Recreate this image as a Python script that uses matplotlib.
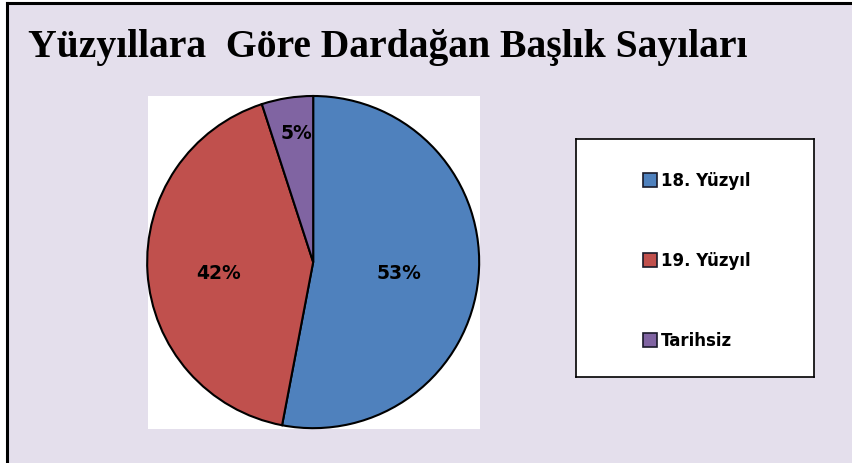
import matplotlib.pyplot as plt
from matplotlib.patches import Rectangle

categories = ['18. Yüzyıl', '19. Yüzyıl', 'Tarihsiz']
values = [53, 42, 5]
colors = ['#4F81BD', '#C0504D', '#8064A2']
title = 'Yüzyıllara  Göre Dardağan Başlık Sayıları'

W, H = 853, 464
fig = plt.figure(figsize=(W / 100, H / 100), dpi=100)
fig.patch.set_facecolor('white')

# lavender chart area with black top/left border
bg = fig.add_axes([7 / W, 0, 1 - 7 / W, 1 - 4 / H], zorder=-5)
bg.set_facecolor('#E4DFEC')
bg.set_xticks([])
bg.set_yticks([])
for s in bg.spines.values():
    s.set_visible(False)
bg.spines['left'].set_visible(True)
bg.spines['top'].set_visible(True)
bg.spines['left'].set_linewidth(2.2)
bg.spines['top'].set_linewidth(2.2)

fig.text(28 / W, 1 - 48 / H, title, fontsize=28.5, fontweight='bold',
         family='Liberation Serif', va='center', ha='left')

# white plot area behind the pie
ax = fig.add_axes([148 / W, 1 - 430 / H, 332 / W, 333 / H])
wedges, texts = ax.pie(values, colors=colors, startangle=90, counterclock=False,
                       radius=1.0,
                       wedgeprops=dict(edgecolor='black', linewidth=1.5))
ax.set_frame_on(True)
ax.set_facecolor('white')
ax.set_xlim(-0.995, 1.005)
ax.set_ylim(-1.005, 1.0)
ax.set_aspect('auto')
for s in ax.spines.values():
    s.set_visible(False)
ax.set_xticks([])
ax.set_yticks([])

label_pos = [(0.52, -0.06), (-0.57, -0.06), (-0.1, 0.78)]
for v, (x, y) in zip(values, label_pos):
    ax.text(x, y, f'{v}%', ha='center', va='center', fontsize=13.5,
            fontweight='bold', family='DejaVu Sans')

# legend box
lax = fig.add_axes([576 / W, 1 - 378 / H, 238 / W, 238 / H])
lax.set_xlim(0, 238)
lax.set_ylim(238, 0)
lax.set_xticks([])
lax.set_yticks([])
lax.set_facecolor('white')
for s in lax.spines.values():
    s.set_linewidth(1.2)
    s.set_color('black')
for i, (c, col) in enumerate(zip(categories, colors)):
    y = 41 + i * 80
    lax.add_patch(Rectangle((67, y - 7), 14, 14, facecolor=col, edgecolor='#1a1a2a', lw=1.2))
    lax.text(85, y, c, ha='left', va='center', fontsize=12, fontweight='bold',
             family='DejaVu Sans')

fig.savefig('out.png', dpi=100, facecolor=fig.get_facecolor())
